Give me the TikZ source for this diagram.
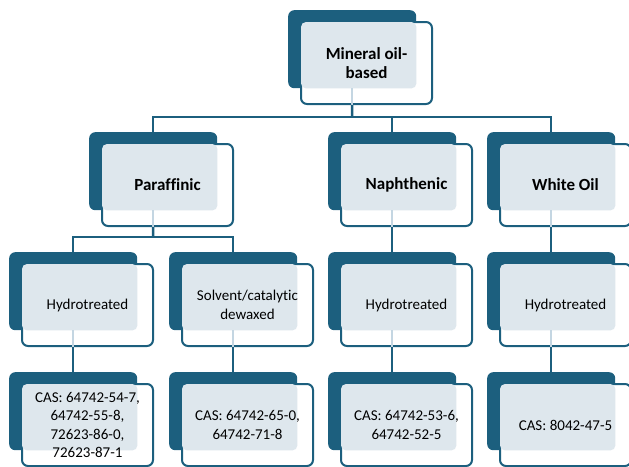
\documentclass[tikz,border=0pt]{standalone}
\usepackage{fontspec}
\setmainfont{Carlito}[Ligatures=NoCommon]
\usepackage{tikz}
\usetikzlibrary{calc}

\definecolor{tealdark}{RGB}{28,95,126}
\definecolor{tealpale}{RGB}{222,231,237}
\definecolor{tealfaint}{RGB}{196,214,226}

\tikzset{
  backbox/.style={fill=tealdark, rounded corners=6pt, minimum width=128pt, minimum height=78pt, inner sep=0pt, anchor=north west},
  frontbox/.style={draw=tealdark, line width=2pt, fill=white, rounded corners=6pt, minimum width=131pt, minimum height=82pt, inner sep=0pt, anchor=north west},
  paleface/.style={fill=tealpale, rounded corners=5pt},
  link/.style={draw=tealdark, line width=2.5pt},
  faintlink/.style={draw=tealfaint, line width=2pt},
  headtext/.style={align=center, font=\fontsize{17}{19}\selectfont\bfseries},
  bodytext/.style={align=center, font=\fontsize{15}{18.5}\selectfont}
}

% one card: name, left, top, text style, text
\newcommand{\tiercard}[5]{%
  \node[backbox] (#1-back) at (#2,#3) {};
  \node[frontbox] (#1) at ([shift={(12pt,-11pt)}]#1-back.north west) {};
  \fill[paleface] ([shift={(1pt,-1pt)}]#1.north west) rectangle (#1-back.south east);
  \node[#4] (#1-text) at (#1.center) {#5};
}

\begin{document}
\begin{tikzpicture}[x=1pt,y=-1pt]
  \useasboundingbox (0,0) rectangle (629,466);

  % level 1
  \tiercard{main}{288}{10}{headtext}{Mineral oil-\\based}
  % level 2
  \tiercard{paraf}{89}{132}{headtext}{Paraffinic}
  \tiercard{naph}{328}{132}{headtext}{Naphthenic}
  \tiercard{white}{487}{132}{headtext}{White Oil}
  % level 3
  \tiercard{parhyd}{9}{252}{bodytext}{Hydrotreated}
  \tiercard{solv}{169}{252}{bodytext}{Solvent/catalytic\\dewaxed}
  \tiercard{naphyd}{328}{252}{bodytext}{Hydrotreated}
  \tiercard{whyd}{487}{252}{bodytext}{Hydrotreated}
  % level 4
  \tiercard{cas1}{9}{372}{bodytext}{CAS: 64742-54-7,\\64742-55-8,\\72623-86-0,\\72623-87-1}
  \tiercard{cas2}{169}{372}{bodytext}{CAS: 64742-65-0,\\64742-71-8}
  \tiercard{cas3}{328}{372}{bodytext}{CAS: 64742-53-6,\\64742-52-5}
  \tiercard{cas4}{487}{372}{bodytext}{CAS: 8042-47-5}

  % faint stubs inside the parent cards
  \foreach \card in {main, paraf, naph, white, parhyd, solv, naphyd, whyd}
    \draw[faintlink] (\card-back.south) -- (\card-back.south |- \card.south);

  % connectors
  \coordinate (bus1) at (352,117);
  \coordinate (bus2) at (153,237);
  \draw[link] (main-back.south |- main.south) -- (bus1);
  \draw[link] (paraf-back.north) -- (paraf-back.north |- bus1) -- (white-back.north |- bus1) -- (white-back.north);
  \draw[link] (naph-back.north |- bus1) -- (naph-back.north);

  \draw[link] (paraf-back.south |- paraf.south) -- (bus2);
  \draw[link] (parhyd-back.north) -- (parhyd-back.north |- bus2) -- (solv-back.north |- bus2) -- (solv-back.north);
  \draw[link] (naph-back.south |- naph.south) -- (naphyd-back.north);
  \draw[link] (white-back.south |- white.south) -- (whyd-back.north);

  \foreach \upper/\lower in {parhyd/cas1, solv/cas2, naphyd/cas3, whyd/cas4}
    \draw[link] (\upper-back.south |- \upper.south) -- (\lower-back.north);
\end{tikzpicture}
\end{document}
